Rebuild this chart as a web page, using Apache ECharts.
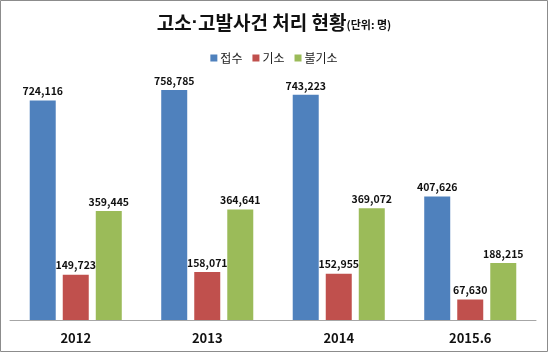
<!DOCTYPE html>
<html>
<head>
<meta charset="utf-8">
<script src="https://cdn.jsdelivr.net/npm/echarts@6/dist/echarts.min.js"></script>
<style>
  html, body { margin: 0; padding: 0; background: #fff; }
  #chart { width: 548px; height: 352px; }
</style>
</head>
<body>
<div id="chart"></div>
<script>
// 연도별 고소·고발사건 처리 (단위: 명)
const years = ['2012', '2013', '2014', '2015.6']
const received = [724116, 758785, 743223, 407626]   // 접수
const indicted = [149723, 158071, 152955, 67630]    // 기소
const notIndicted = [359445, 364641, 369072, 188215] // 불기소

const FONT = '"Noto Sans CJK KR", "Noto Sans", sans-serif'

const labelStyle = {
  show: true,
  position: 'top',
  distance: 4,
  color: '#111',
  fontFamily: FONT,
  fontWeight: 'bold',
  fontSize: 10.5,
  formatter: p => p.value.toLocaleString('en-US')
}

function makeBar(name, data, color) {
  return {
    name: name,
    type: 'bar',
    data: data,
    barWidth: 26,
    barGap: '27%',
    itemStyle: { color: color },
    label: labelStyle
  }
}

const chart = echarts.init(document.getElementById('chart'))
chart.setOption({
  animation: false,
  backgroundColor: '#fff',
  title: {
    left: 'center',
    top: 8,
    text: '{a|고소}{d|·}{a|고발사건 처리 현황}{b|(단위: 명)}',
    textStyle: {
      rich: {
        a: { fontFamily: FONT, fontWeight: 'bold', fontSize: 19, color: '#111' },
        d: { fontFamily: '"Liberation Sans", sans-serif', fontWeight: 'bold', fontSize: 19, color: '#111' },
        b: { fontFamily: FONT, fontSize: 11, color: '#111', padding: [4, 0, 0, 0] }
      }
    }
  },
  legend: {
    top: 47,
    left: 'center',
    itemWidth: 7,
    itemHeight: 7,
    itemGap: 10,
    icon: 'rect',
    textStyle: { fontFamily: FONT, fontSize: 12, color: '#222', padding: [0, 0, 0, -2] },
    data: ['접수', '기소', '불기소']
  },
  grid: { left: 10, right: 12, top: 17, bottom: 32, containLabel: false },
  xAxis: {
    type: 'category',
    data: years,
    axisLine: { lineStyle: { color: '#a6a6a6', width: 1 } },
    axisTick: { show: false },
    axisLabel: {
      margin: 12,
      color: '#111',
      fontFamily: FONT,
      fontWeight: 'bold',
      fontSize: 13
    }
  },
  yAxis: {
    type: 'value',
    min: 0,
    max: 1000000,
    show: false,
    splitLine: { show: false }
  },
  series: [
    makeBar('접수', received, '#4f81bd'),
    makeBar('기소', indicted, '#c0504d'),
    makeBar('불기소', notIndicted, '#9bbb59')
  ],
  graphic: [{
    type: 'rect',
    shape: { x: 0.5, y: 0.5, width: 547, height: 351 },
    style: { fill: 'none', stroke: '#8c8c8c', lineWidth: 1 },
    silent: true
  }]
})
</script>
</body>
</html>
